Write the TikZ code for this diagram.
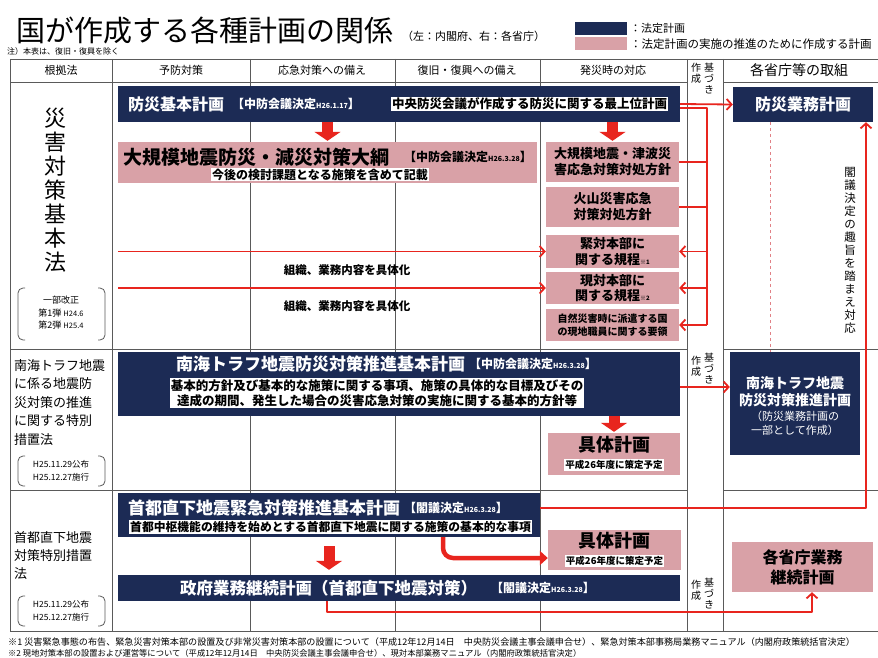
\documentclass[tikz,border=0pt]{standalone}
\usepackage{fontspec}
\setmainfont{Noto Sans CJK JP}
\usetikzlibrary{arrows.meta}
\definecolor{navy}{HTML}{1C2B55}
\definecolor{pinkc}{HTML}{D9A1A7}
\definecolor{redc}{HTML}{E8251E}
\definecolor{gridc}{HTML}{5A5A5A}
\newcommand\fsz[1]{\fontsize{#1}{#1}\selectfont}
\newcommand\fszl[2]{\fontsize{#1}{#2}\selectfont}
\begin{document}
\begin{tikzpicture}[x=1pt,y=-1pt,
  navybox/.style={fill=navy, draw=none, inner sep=0pt},
  pinkbox/.style={fill=pinkc, draw=none, inner sep=0pt},
  wlabel/.style={fill=white, text=black, inner sep=1pt},
  txt/.style={inner sep=0pt},
  redln/.style={draw=redc, line width=1.8pt},
  arr/.style={-{Straight Barb[length=5pt,width=11pt]}},
  fatarrow/.style={draw=redc, line width=11pt, -{Triangle[length=9pt,width=26pt]}},
  gridln/.style={draw=gridc, line width=0.9pt},
  brk/.style={draw=gridc, line width=0.8pt, rounded corners=5pt},
]
\useasboundingbox[fill=white] (0,0) rectangle (878,658);

% ---------- title and legend ----------
\node[txt, anchor=west, font=\fsz{29}] (title) at (16,30) {国が作成する各種計画の関係};
\node[txt, anchor=west, font=\fsz{11}] (subtitle) at (402,36) {（左：内閣府、右：各省庁）};
\node[txt, anchor=west, font=\fsz{8}] (note) at (7,51) {注）本表は、復旧・復興を除く};
\node[navybox, minimum width=52, minimum height=13] (legN) at (601,28.5) {};
\node[pinkbox, minimum width=52, minimum height=13] (legP) at (601,43.5) {};
\node[txt, anchor=west, font=\fsz{11}] (legNt) at (630,28) {：法定計画};
\node[txt, anchor=west, font=\fsz{11.5}] (legPt) at (630,44) {：法定計画の実施の推進のために作成する計画};

% ---------- table grid ----------
\draw[gridln] (10,59) -- (878,59);
\draw[gridln] (10,82) -- (687,82) (723,82) -- (878,82);
\draw[gridln] (10,349) -- (687,349) (723,349) -- (878,349);
\draw[gridln] (10,490) -- (687,490) (723,490) -- (878,490);
\draw[gridln] (10,631) -- (878,631);
\foreach \xx in {10,112,250,395,540,687,723} \draw[gridln] (\xx,59) -- (\xx,631);

% header
\node[txt, font=\fsz{11}] (h1) at (61,70.5) {根拠法};
\node[txt, font=\fsz{11}] (h2) at (181,70.5) {予防対策};
\node[txt, font=\fsz{11}] (h3) at (322,70.5) {応急対策への備え};
\node[txt, font=\fsz{11}] (h4) at (467,70.5) {復旧・復興への備え};
\node[txt, font=\fsz{11}] (h5) at (613,70.5) {発災時の対応};
\node[txt, font=\fsz{14}] (h7) at (799,70.5) {各省庁等の取組};

% 基づき作成 labels
\node[txt, font=\fszl{10}{11}, align=center] (sa1) at (696,73) {作\\成};
\node[txt, font=\fszl{10}{11}, align=center] (mo1) at (709,79) {基\\づ\\き};
\node[txt, font=\fszl{10}{11}, align=center] (sa2) at (696,366) {作\\成};
\node[txt, font=\fszl{10}{11}, align=center] (mo2) at (709,369) {基\\づ\\き};
\node[txt, font=\fszl{10}{11}, align=center] (sa3) at (696,590) {作\\成};
\node[txt, font=\fszl{10}{11}, align=center] (mo3) at (709,594) {基\\づ\\き};

% ---------- left column ----------
\node[txt, font=\fszl{22}{24}, align=center] (law1) at (55,190) {災\\害\\対\\策\\基\\本\\法};
\node[txt, font=\fszl{9}{12.5}, align=center] (law1b) at (61,313) {一部改正\\第1弾 {\fsz{7.5}H24.6}\\第2弾 {\fsz{7.5}H25.4}};
\draw[brk] (25,288) -- (18,288) -- (18,340) -- (25,340);
\draw[brk] (98,288) -- (105,288) -- (105,340) -- (98,340);

\node[txt, anchor=north west, font=\fszl{13}{18.5}, align=left] (law2) at (14,359) {南海トラフ地震\\に係る地震防\\災対策の推進\\に関する特別\\措置法};
\node[txt, font=\fszl{8.5}{12.5}, align=center] (law2b) at (61,471) {H25.11.29公布\\H25.12.27施行};
\draw[brk] (25,456) -- (18,456) -- (18,486) -- (25,486);
\draw[brk] (98,456) -- (105,456) -- (105,486) -- (98,486);

\node[txt, anchor=north west, font=\fszl{13}{18}, align=left] (law3) at (14,531) {首都直下地震\\対策特別措置\\法};
\node[txt, font=\fszl{8.5}{12.5}, align=center] (law3b) at (61,611) {H25.11.29公布\\H25.12.27施行};
\draw[brk] (25,596) -- (18,596) -- (18,626) -- (25,626);
\draw[brk] (98,596) -- (105,596) -- (105,626) -- (98,626);

% ---------- row 1 ----------
\node[navybox, minimum width=562, minimum height=36] (kihon) at (399,104) {};
\node[txt, anchor=west, text=white, font=\fsz{16}\bfseries] (kihonT) at (128,104) {防災基本計画};
\node[txt, anchor=west, text=white, font=\fsz{12}\bfseries] (kihonD) at (232,104) {【中防会議決定{\fsz{7}H26.1.17}】};
\node[wlabel, anchor=west, font=\fsz{12.5}\bfseries] (kihonL) at (391,104) {中央防災会議が作成する防災に関する最上位計画};

\node[pinkbox, minimum width=419, minimum height=41] (taiko) at (327.5,162.5) {};
\node[txt, anchor=west, font=\fsz{19}\bfseries] (taikoT) at (123,157) {大規模地震防災・減災対策大綱};
\node[txt, anchor=west, font=\fsz{12}\bfseries] (taikoD) at (404,157) {【中防会議決定{\fsz{7}H26.3.28}】};
\node[wlabel, font=\fsz{12}\bfseries] (taikoL) at (320,174.5) {今後の検討課題となる施策を含めて記載};

\node[pinkbox, minimum width=133, minimum height=40, font=\fszl{13}{16}\bfseries, align=center] (p1) at (612.5,162) {大規模地震・津波災\\害応急対策対処方針};
\node[pinkbox, minimum width=133, minimum height=40, font=\fszl{13}{16}\bfseries, align=center] (p2) at (612.5,207) {火山災害応急\\対策対処方針};
\node[pinkbox, minimum width=133, minimum height=33, font=\fszl{13}{15.5}\bfseries, align=center] (p3) at (612.5,251.5) {緊対本部に\\関する規程{\fsz{6}※1}};
\node[pinkbox, minimum width=133, minimum height=32, font=\fszl{13}{15.5}\bfseries, align=center] (p4) at (612.5,288) {現対本部に\\関する規程{\fsz{6}※2}};
\node[pinkbox, minimum width=133, minimum height=32, font=\fszl{10}{13}\bfseries, align=center] (p5) at (612.5,325) {自然災害時に派遣する国\\の現地職員に関する要領};

\draw[fatarrow, shorten >=1pt] (taiko.north |- kihon.south) -- (taiko.north);
\draw[fatarrow, shorten >=1pt] (p1.north |- kihon.south) -- (p1.north);

\coordinate (busTop) at (707,108);
\coordinate (busBot) at (707,325);
\draw[redln, line join=round] ([yshift=-4pt]kihon.east) -- (busTop) -- (busBot);
\draw[redln] (p1.east -| busTop) -- (p1.east);
\draw[redln] (p2.east -| busTop) -- (p2.east);
\draw[redln, arr] (p3.east -| busTop) -- (p3.east);
\draw[redln, arr] (p4.east -| busTop) -- (p4.east);
\draw[redln, arr] (busBot) -- (p5.east);

\coordinate (l1) at (118,251.5);
\coordinate (l2) at (118,288);
\draw[redln, arr] (l1) -- (p3.west);
\draw[redln, arr] (l2) -- (p4.west);
\node[txt, font=\fsz{11.5}\bfseries] (lab1) at (347,270) {組織、業務内容を具体化};
\node[txt, font=\fsz{11.5}\bfseries] (lab2) at (347,306) {組織、業務内容を具体化};

% right column row 1
\node[navybox, minimum width=140, minimum height=35, text=white, font=\fsz{16}\bfseries] (gyomu) at (803,104.5) {防災業務計画};
\draw[redln, arr] (kihon.east) -- (gyomu.west);
\node[txt, font=\fszl{11.5}{13}, align=center] (kakugi) at (850,250) {閣\\議\\決\\定\\の\\趣\\旨\\を\\踏\\ま\\え\\対\\応};

% ---------- row 2 ----------
\node[navybox, minimum width=562, minimum height=64] (nankai) at (399,384) {};
\node[txt, anchor=west, text=white, font=\fsz{17}\bfseries] (nankaiT) at (176,364) {南海トラフ地震防災対策推進基本計画};
\node[txt, anchor=west, text=white, font=\fsz{12}\bfseries] (nankaiD) at (469,364) {【中防会議決定{\fsz{7}H26.3.28}】};
\node[wlabel, font=\fszl{12.5}{15}\bfseries, align=center] (nankaiL) at (377,393) {基本的方針及び基本的な施策に関する事項、施策の具体的な目標及びその\\達成の期間、発生した場合の災害応急対策の実施に関する基本的方針等};

\node[pinkbox, minimum width=132, minimum height=42] (gutai1) at (614,454) {};
\node[txt, font=\fsz{18}\bfseries] (gutai1T) at (614,445) {具体計画};
\node[wlabel, font=\fsz{9.5}\bfseries] (gutai1L) at (614,465) {平成26年度に策定予定};
\draw[fatarrow, shorten >=1pt] (gutai1.north |- nankai.south) -- (gutai1.north);

\node[navybox, minimum width=130, minimum height=103] (nankaiR) at (795,403.5) {};
\node[txt, text=white, font=\fszl{14}{17}\bfseries, align=center] (nankaiRT) at (795,391.5) {南海トラフ地震\\防災対策推進計画};
\node[txt, text=white, font=\fszl{11}{14}, align=center] (nankaiRS) at (795,423) {（防災業務計画の\\一部として作成）};
\draw[redln, arr] ([yshift=-3pt]nankai.east) coordinate (nk) -- (nk -| nankaiR.west);

\coordinate (d1) at (770,0);
\draw[draw=pinkc!80!red, line width=1pt, dashed] (gyomu.south -| d1) -- (nankaiR.north -| d1);

% ---------- row 3 ----------
\node[navybox, minimum width=422, minimum height=44] (shuto) at (329,515) {};
\node[txt, anchor=west, text=white, font=\fsz{17}\bfseries] (shutoT) at (128,508) {首都直下地震緊急対策推進基本計画};
\node[txt, anchor=west, text=white, font=\fsz{12}\bfseries] (shutoD) at (404,508) {【閣議決定{\fsz{7}H26.3.28}】};
\node[wlabel, anchor=west, font=\fsz{11.8}\bfseries] (shutoL) at (129,527) {首都中枢機能の維持を始めとする首都直下地震に関する施策の基本的な事項};

\node[pinkbox, minimum width=133, minimum height=40] (gutai2) at (614.5,550) {};
\node[txt, font=\fsz{18}\bfseries] (gutai2T) at (614.5,541) {具体計画};
\node[wlabel, font=\fsz{9.5}\bfseries] (gutai2L) at (614.5,561) {平成26年度に策定予定};

\node[navybox, minimum width=562, minimum height=26] (seifu) at (399,588) {};
\node[txt, anchor=west, text=white, font=\fsz{16.5}\bfseries] (seifuT) at (180,588) {政府業務継続計画（首都直下地震対策）};
\node[txt, anchor=west, text=white, font=\fsz{12}\bfseries] (seifuD) at (491,588) {【閣議決定{\fsz{7}H26.3.28}】};

\node[pinkbox, minimum width=141, minimum height=50, font=\fszl{16}{20}\bfseries, align=center] (kakusho) at (802.5,567) {各省庁業務\\継続計画};

\draw[fatarrow, shorten <=9pt, shorten >=5pt] (shuto.south) -- (seifu.north -| shuto.south);

\coordinate (c1) at (443,558);
\draw[draw=redc, line width=4.5pt, rounded corners=10pt, -{Triangle[length=8pt,width=14pt]}] (shuto.south -| c1) -- (c1) -- (c1 -| gutai2.west);

\coordinate (rv) at (866,508);
\draw[redln, arr, line join=round] ([yshift=7pt]shuto.east) -- (rv) -- (rv |- gyomu.south);

\coordinate (b1) at (327,612);
\coordinate (b2) at (812,612);
\draw[redln, arr, line join=round] (seifu.south -| b1) -- (b1) -- (b2) -- (b2 |- kakusho.south);

% ---------- footnotes ----------
\node[txt, anchor=west, font=\fsz{9.1}] (fn1) at (8,642) {※1 災害緊急事態の布告、緊急災害対策本部の設置及び非常災害対策本部の設置について（平成12年12月14日　中央防災会議主事会議申合せ）、緊急対策本部事務局業務マニュアル（内閣府政策統括官決定）};
\node[txt, anchor=west, font=\fsz{8.3}] (fn2) at (8,653) {※2 現地対策本部の設置および運営等について（平成12年12月14日　中央防災会議主事会議申合せ）、現対本部業務マニュアル（内閣府政策統括官決定）};
\end{tikzpicture}
\end{document}
